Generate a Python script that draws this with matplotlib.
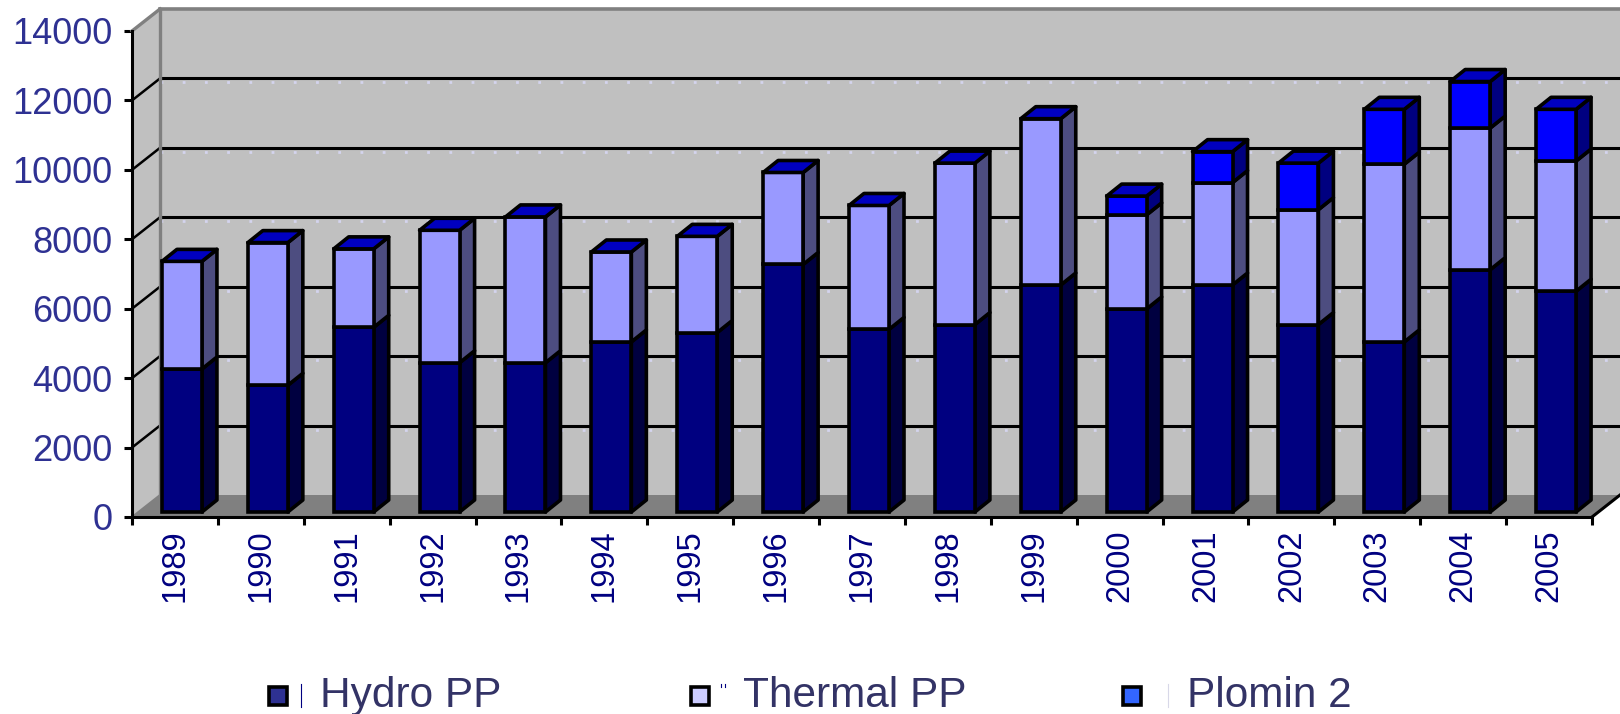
import matplotlib
matplotlib.use("Agg")
import matplotlib.pyplot as plt
from matplotlib.patches import Polygon, Rectangle
from matplotlib.lines import Line2D

plt.rcParams['font.family'] = ['Liberation Sans', 'DejaVu Sans']

years = [1989, 1990, 1991, 1992, 1993, 1994, 1995, 1996, 1997, 1998, 1999,
         2000, 2001, 2002, 2003, 2004, 2005]
hydro = [4120, 3650, 5320, 4300, 4300, 4900, 5170, 7130, 5260, 5400, 6540,
         5850, 6540, 5400, 4900, 6980, 6360]
thermal = [3100, 4110, 2260, 3815, 4200, 2590, 2770, 2650, 3570, 4650, 4790,
           2710, 2950, 3310, 5120, 4080, 3750]
plomin = [0, 0, 0, 0, 0, 0, 0, 0, 0, 0, 0,
          540, 890, 1340, 1580, 1340, 1490]
y_ticks = [0, 2000, 4000, 6000, 8000, 10000, 12000, 14000]
legend_names = ['Hydro PP', 'Thermal PP', 'Plomin 2']

W, H = 1620, 714
AX_L, AX_R, AX_B, AX_T = 132, 1592, 517, 31
PX_X = 17 / (AX_R - AX_L)
PX_Y = 14000 / (AX_B - AX_T)

fig = plt.figure(figsize=(W / 100, H / 100), dpi=100, facecolor='white')
ax = fig.add_axes([AX_L / W, 1 - AX_B / H, (AX_R - AX_L) / W, (AX_B - AX_T) / H])
ax.patch.set_visible(False)
ax.set_xlim(-0.5, 16.5)
ax.set_ylim(0, 14000)

# depth of the fake 3d box, in data units
back_x, back_y = 28 * PX_X, 22 * PX_Y
off_x, off_y = 7 * PX_X, 5 * PX_Y
side_x, side_y = 15 * PX_X, 12 * PX_Y
bar_w = 40 * PX_X
x0, x1 = -0.5, 16.5

wall = Polygon([(x0 + back_x, back_y), (x1 + back_x, back_y), (x1 + back_x, 14000 + back_y),
                (x0 + back_x, 14000 + back_y)], fc='#c0c0c0', ec='none', clip_on=False, zorder=1)
ax.add_patch(wall)
left_wall = Polygon([(x0, 0), (x0 + back_x, back_y), (x0 + back_x, 14000 + back_y), (x0, 14000)],
                    fc='#c0c0c0', ec='none', clip_on=False, zorder=1)
ax.add_patch(left_wall)
floor = Polygon([(x0, 0), (x1, 0), (x1 + back_x, back_y), (x0 + back_x, back_y)],
                fc='#808080', ec='none', clip_on=False, zorder=2)
ax.add_patch(floor)

for v in y_ticks[1:-1]:
    ax.plot([x0 + back_x, x1 + back_x], [v + back_y - 4 * PX_Y] * 2, color='#d4d4ee', lw=2,
            ls=(0, (1, 7)), clip_on=False, zorder=2)
    ax.plot([x0 + back_x, x1 + back_x], [v + back_y] * 2, color='black', lw=2.2, clip_on=False, zorder=3)
    ax.plot([x0, x0 + back_x], [v, v + back_y], color='black', lw=1.8, clip_on=False, zorder=3)
ax.plot([x0 + back_x, x1 + back_x], [14000 + back_y] * 2, color='#808080', lw=2.6, clip_on=False, zorder=3)
ax.plot([x0, x0 + back_x], [14000, 14000 + back_y], color='#808080', lw=2.4, clip_on=False, zorder=3)
ax.plot([x0 + back_x] * 2, [back_y, 14000 + back_y], color='#808080', lw=2.4, clip_on=False, zorder=3)
ax.plot([x0, x0 + back_x], [0, back_y], color='#808080', lw=1.4, clip_on=False, zorder=3)
ax.plot([x1, x1 + back_x], [0, back_y], color='black', lw=2.2, clip_on=False, zorder=3)

series = [(hydro, '#000080', '#000040'),
          (thermal, '#9999ff', '#4d4d80'),
          (plomin, '#0000ff', '#000080')]
edge = 2.6
for i in range(len(years)):
    left = i - bar_w / 2 + off_x
    right = left + bar_w
    bottom = off_y
    for vals, front_col, side_col in series:
        v = vals[i]
        if v > 0:
            side = Polygon([(right, bottom), (right + side_x, bottom + side_y),
                            (right + side_x, bottom + side_y + v), (right, bottom + v)],
                           fc=side_col, ec='black', lw=edge, joinstyle='round', clip_on=False, zorder=5)
            ax.add_patch(side)
            front = Rectangle((left, bottom), bar_w, v, fc=front_col, ec='black', lw=edge,
                              clip_on=False, zorder=6)
            ax.add_patch(front)
        bottom += v
    top = Polygon([(left, bottom), (right, bottom), (right + side_x, bottom + side_y),
                   (left + side_x, bottom + side_y)], fc='#0000c0', ec='black', lw=edge,
                  joinstyle='round', clip_on=False, zorder=6)
    ax.add_patch(top)

for s in ['top', 'right']:
    ax.spines[s].set_visible(False)
for s in ['left', 'bottom']:
    ax.spines[s].set_linewidth(2.2)
    ax.spines[s].set_zorder(7)

ax.set_yticks(y_ticks)
ax.set_yticklabels([str(v) for v in y_ticks], fontsize=26, color='#2e3192')
ax.tick_params(axis='y', direction='out', length=6, width=2.2, pad=8)
ax.set_xticks([i - 0.5 for i in range(len(years) + 1)])
ax.set_xticklabels([])
ax.set_xticks(range(len(years)), minor=True)
ax.set_xticklabels([str(y) for y in years], minor=True, rotation=90, fontsize=23.5, color='#000080')
ax.tick_params(axis='x', which='major', direction='out', length=6, width=2.2)
ax.tick_params(axis='x', which='minor', length=0, pad=9)

# legend is laid out by hand, entries are unevenly spaced in the original
swatch_cols = ['#2e3192', '#ccccff', '#3366ff']
swatch_x = [278, 700, 1132]
text_x = [320, 743, 1187]
leg_y = 1 - 696 / H
for name, col, sx, tx in zip(legend_names, swatch_cols, swatch_x, text_x):
    fig.add_artist(Line2D([sx / W], [leg_y], marker='s', ms=13.2, mfc=col, mec='black', mew=2.6,
                          ls='none', transform=fig.transFigure))
    fig.text(tx / W, 1 - 696 / H, name, fontsize=30.5, color='#333366', va='center', ha='left')

# small stray key marks next to the swatches
fig.add_artist(Line2D([301 / W, 301 / W], [1 - 684 / H, 1 - 707 / H], color='#000080', lw=0.8))
fig.add_artist(Line2D([721 / W, 721 / W], [1 - 684 / H, 1 - 687 / H], color='#000080', lw=0.8))
fig.add_artist(Line2D([725 / W, 725 / W], [1 - 684 / H, 1 - 687 / H], color='#000080', lw=0.8))
fig.add_artist(Line2D([1168 / W, 1168 / W], [1 - 684 / H, 1 - 707 / H], color='#d8d8e8', lw=0.8))

fig.savefig('out.png', dpi=100)
